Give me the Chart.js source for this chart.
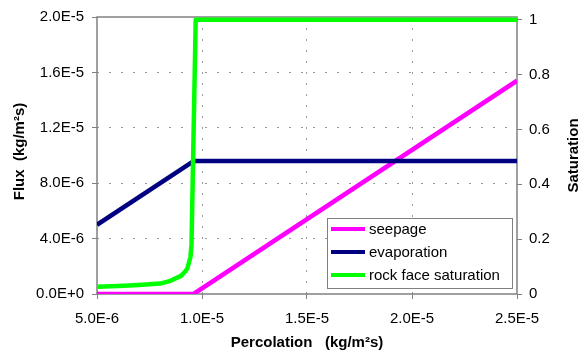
<!DOCTYPE html>
<html>
<head>
<meta charset="utf-8">
<script src="https://cdn.jsdelivr.net/npm/chart.js@4/dist/chart.umd.min.js"></script>
<style>
  html, body { margin: 0; padding: 0; background: #ffffff; }
  #wrap { width: 581px; height: 357px; position: relative; }
</style>
</head>
<body>
<div id="wrap"><canvas id="c" width="581" height="357"></canvas></div>
<script>
// ---- data ----
const seriesLabels = ['seepage', 'evaporation', 'rock face saturation'];
const percolation = [5e-6, 9.6e-6, 2.5e-5];
const seepage = [0, 0, 1.54e-5];
const evaporation = [5e-6, 9.6e-6, 9.6e-6];
const satPercolation = [5e-6, 6e-6, 7e-6, 8e-6, 8.5e-6, 9e-6, 9.2e-6, 9.3e-6, 9.45e-6, 9.5e-6, 9.7e-6, 2.5e-5];
const saturation = [0.026, 0.029, 0.033, 0.038, 0.048, 0.066, 0.082, 0.093, 0.135, 0.18, 1.0, 1.0];

const xTicks = [5e-6, 1e-5, 1.5e-5, 2e-5, 2.5e-5];
const fluxTicks = [0, 4e-6, 8e-6, 1.2e-5, 1.6e-5, 2e-5];
const satTicks = [0, 0.2, 0.4, 0.6, 0.8, 1];

const xTitle = 'Percolation   (kg/m\u00B2s)';
const yTitle = 'Flux  (kg/m\u00B2s)';
const y2Title = 'Saturation';

const colors = ['#ff00ff', '#000080', '#00ff00'];
const FONT = '"Liberation Sans", Arial, sans-serif';

const pts = (xs, ys) => xs.map((x, i) => ({ x: x, y: ys[i] }));
const fmtE = v => v.toExponential(1).toUpperCase();
const gridColor = (ticks) => (c) => (c.index === 0 || c.index === ticks.length - 1) ? 'rgba(0,0,0,0)' : '#9a9a9a';

const framePlugin = {
  id: 'frame',
  beforeDraw(chart) {
    const ctx = chart.ctx;
    ctx.save();
    ctx.fillStyle = '#ffffff';
    ctx.fillRect(0, 0, chart.width, chart.height);
    ctx.restore();
  },
  beforeDatasetsDraw(chart) {
    const { ctx, chartArea: a } = chart;
    ctx.save();
    ctx.strokeStyle = '#808080';
    ctx.lineWidth = 1.5;
    ctx.strokeRect(a.left, a.top, a.right - a.left, a.bottom - a.top);
    ctx.restore();
  },
  afterDraw(chart) {
    const { ctx, chartArea: a } = chart;
    ctx.save();
    // axis titles
    ctx.fillStyle = '#000';
    ctx.font = 'bold 15px ' + FONT;
    ctx.textAlign = 'center';
    ctx.textBaseline = 'middle';
    ctx.fillText(xTitle, (a.left + a.right) / 2, 343);
    ctx.save();
    ctx.translate(20, (a.top + a.bottom) / 2 - 4);
    ctx.rotate(-Math.PI / 2);
    ctx.fillText(yTitle, 0, 0);
    ctx.restore();
    ctx.save();
    ctx.translate(574, (a.top + a.bottom) / 2);
    ctx.rotate(-Math.PI / 2);
    ctx.fillText(y2Title, 0, 0);
    ctx.restore();

    // legend box
    const bx = 327, by = 218, bw = 185, bh = 70;
    ctx.fillStyle = '#ffffff';
    ctx.fillRect(bx, by, bw, bh);
    ctx.strokeStyle = '#808080';
    ctx.lineWidth = 1;
    ctx.strokeRect(bx + 0.5, by + 0.5, bw, bh);
    ctx.font = '15px ' + FONT;
    ctx.textAlign = 'left';
    ctx.textBaseline = 'middle';
    const rows = [229, 252, 275];
    seriesLabels.forEach((lab, i) => {
      ctx.strokeStyle = colors[i];
      ctx.lineWidth = 4;
      ctx.beginPath();
      ctx.moveTo(331, rows[i]);
      ctx.lineTo(365, rows[i]);
      ctx.stroke();
      ctx.fillStyle = '#000';
      ctx.fillText(lab, 369, rows[i] + 1);
    });
    ctx.restore();
  }
};

new Chart(document.getElementById('c'), {
  type: 'line',
  data: {
    datasets: [
      { label: seriesLabels[0], data: pts(percolation, seepage), borderColor: colors[0], yAxisID: 'y', order: 2 },
      { label: seriesLabels[1], data: pts(percolation, evaporation), borderColor: colors[1], yAxisID: 'y', order: 1 },
      { label: seriesLabels[2], data: pts(satPercolation, saturation), borderColor: colors[2], yAxisID: 'y2', order: 0 }
    ]
  },
  options: {
    responsive: false,
    animation: false,
    layout: { padding: { top: 11, left: 0, right: 0, bottom: 0 } },
    elements: {
      point: { radius: 0, hoverRadius: 0 },
      line: { borderWidth: 4.5, tension: 0, fill: false, borderJoinStyle: 'round', borderCapStyle: 'butt' }
    },
    plugins: { legend: { display: false }, tooltip: { enabled: false } },
    scales: {
      x: {
        type: 'linear',
        min: xTicks[0], max: xTicks[xTicks.length - 1],
        afterBuildTicks: ax => { ax.ticks = xTicks.map(v => ({ value: v })); },
        afterFit: s => { s.height = 63; },
        border: { display: false, dash: [2, 9] },
        grid: { color: gridColor(xTicks), lineWidth: 1, tickColor: '#808080', tickLength: 5, tickBorderDash: [] },
        ticks: { callback: v => fmtE(v), color: '#000', font: { family: FONT, size: 15 }, padding: 11, maxRotation: 0, autoSkip: false }
      },
      y: {
        type: 'linear', position: 'left',
        min: fluxTicks[0], max: fluxTicks[fluxTicks.length - 1],
        afterBuildTicks: ax => { ax.ticks = fluxTicks.map(v => ({ value: v })); },
        afterFit: s => { s.width = 97; },
        border: { display: false, dash: [2, 10] },
        grid: { color: gridColor(fluxTicks), lineWidth: 1, tickColor: '#808080', tickLength: 5, tickBorderDash: [] },
        ticks: { callback: v => fmtE(v), color: '#000', font: { family: FONT, size: 15 }, padding: 8, autoSkip: false }
      },
      y2: {
        type: 'linear', position: 'right',
        min: 0, max: 1.01,
        afterBuildTicks: ax => { ax.ticks = satTicks.map(v => ({ value: v })); },
        afterFit: s => { s.width = 64; },
        border: { display: false },
        grid: { drawOnChartArea: false, color: 'rgba(0,0,0,0)', tickColor: '#808080', tickLength: 5, tickBorderDash: [] },
        ticks: { callback: v => String(Math.round(v * 10) / 10), color: '#000', font: { family: FONT, size: 15 }, padding: 7, autoSkip: false }
      }
    }
  },
  plugins: [framePlugin]
});
</script>
</body>
</html>
